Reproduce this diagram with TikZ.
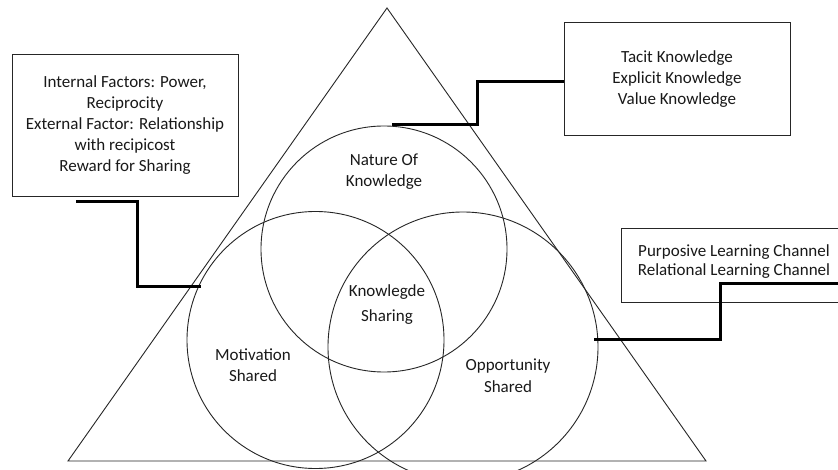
\documentclass[tikz,border=0pt]{standalone}
\usepackage{fontspec}
\setmainfont{Carlito}
\begin{document}
\begin{tikzpicture}[x=1pt,y=-1pt,
  thinline/.style={line width=0.9pt, draw=black!85},
  ring/.style={circle, draw=black!85, line width=0.9pt, inner sep=0pt},
  boxstyle/.style={draw=black!85, line width=0.9pt},
  conn/.style={line width=3pt, line join=miter, draw=black},
  lbl/.style={font=\fontsize{17}{21}\selectfont, align=center, text=black!90, inner sep=0pt}]
\useasboundingbox (0,0) rectangle (838,470);
\fill[white] (0,0) rectangle (838,470);
% triangle
\coordinate (apex) at (387,8);
\coordinate (bl) at (68,461);
\coordinate (br) at (706,461);
\draw[thinline] (bl) -- (apex) -- (br) -- cycle;
% circles
\node[ring, minimum size=246pt] (nature) at (384,249) {};
\node[ring, minimum size=257pt] (motiv) at (315.5,340) {};
\node[ring, minimum size=270pt] (oppo) at (463,347) {};
% circle labels
\node[lbl] (natl) at (384,172) {Nature Of\\Knowledge};
\node[lbl] (ksl) at (387,305) {Knowlegde\\[4pt]Sharing};
\node[lbl] (motl) at (253,365.5) {Motivation\\Shared};
\node[lbl] (oppl) at (508,376) {Opportunity\\[1pt]Shared};
% boxes
\draw[boxstyle] (12,54) coordinate (lb1) rectangle (238,196) coordinate (lb2);
\node[lbl] (ltext) at (125,125.5) {Internal Factors: Power,\\Reciprocity\\External Factor: Relationship\\with recipicost\\Reward for Sharing};
\draw[boxstyle] (564,22) coordinate (tb1) rectangle (790,135) coordinate (tb2);
\node[lbl] (ttext) at (677,79) {Tacit Knowledge\\Explicit Knowledge\\Value Knowledge};
\draw[boxstyle] (621,228) coordinate (rb1) rectangle (850,302) coordinate (rb2);
\node[lbl, font=\fontsize{17}{19.5}\selectfont] (rtext) at (734,261.5) {Purposive Learning Channel\\Relational Learning Channel};
% connectors
\coordinate (c1a) at (76,202);
\coordinate (c1b) at (137,202);
\coordinate (c1c) at (137,287);
\coordinate (c1d) at (201,287);
\draw[conn] (c1a) -- (c1b) -- (c1c) -- (c1d);
\coordinate (c2a) at (392,125);
\coordinate (c2b) at (477,125);
\coordinate (c2c) at (477,82);
\coordinate (c2d) at (564,82);
\draw[conn] (c2a) -- (c2b) -- (c2c) -- (c2d);
\coordinate (c3a) at (594,339);
\coordinate (c3b) at (720,339);
\coordinate (c3c) at (720,284);
\coordinate (c3d) at (850,284);
\draw[conn] (c3a) -- (c3b) -- (c3c) -- (c3d);
\end{tikzpicture}
\end{document}
